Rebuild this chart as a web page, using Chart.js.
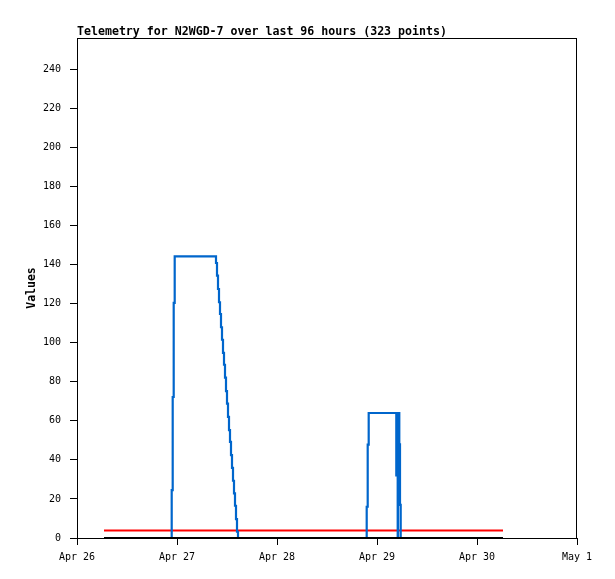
<!DOCTYPE html>
<html>
<head>
<meta charset="utf-8">
<script src="https://cdn.jsdelivr.net/npm/chart.js@4.4.1/dist/chart.umd.min.js"></script>
<style>
  html, body { margin: 0; padding: 0; background: #fff; }
  #wrap { width: 615px; height: 579px; position: relative; }
</style>
</head>
<body>
<div id="wrap"><canvas id="chart"></canvas></div>
<script>
// Time in days since Apr 26 00:00
const tickLabels = ['Apr 26', 'Apr 27', 'Apr 28', 'Apr 29', 'Apr 30', 'May 1'];

// Blue channel (value changes at each time and holds until the next)
const blueTimes = [
  0.27, 0.947, 0.957, 0.967, 0.977,
  1.39, 1.40, 1.41, 1.42, 1.43, 1.44, 1.45, 1.46, 1.47, 1.48, 1.49,
  1.50, 1.51, 1.52, 1.53, 1.54, 1.55, 1.56, 1.57, 1.58, 1.59, 1.60, 1.61,
  2.897, 2.907, 2.917,
  3.193, 3.20, 3.207, 3.21, 3.217, 3.223, 3.23, 3.237,
  4.26
];
const blueValues = [
  0, 24.5, 72.2, 120.4, 144.2,
  140.8, 134.3, 127.5, 120.7, 114.7, 107.9, 101.5, 94.8, 88.7, 82.1, 75.2,
  68.8, 62.0, 55.2, 49.2, 42.4, 35.9, 29.3, 22.8, 16.5, 9.7, 3.2, 0,
  16.0, 47.8, 64.0,
  32, 64, 0, 17, 64, 48, 17, 0,
  0
];

// Flat channels
const flatTimes = [0.27, 4.26];
const redValues = [3.8, 3.8];
const blackValues = [0, 0];

const title = 'Telemetry for N2WGD-7 over last 96 hours (323 points)';
const yTitle = 'Values';

const toPoints = (xs, ys) => xs.map((x, i) => ({ x: x, y: ys[i] }));

// Frame + title drawn at the chart area
const framePlugin = {
  id: 'frame',
  afterDraw(chart) {
    const { ctx, chartArea: a } = chart;
    ctx.save();
    ctx.strokeStyle = '#000';
    ctx.lineWidth = 1;
    ctx.strokeRect(a.left + 0.5, a.top + 0.5, a.right - a.left - 1, a.bottom - a.top);
    ctx.fillStyle = '#000';
    ctx.font = 'bold 11.6px "DejaVu Sans Mono", monospace';
    ctx.textAlign = 'left';
    ctx.textBaseline = 'alphabetic';
    ctx.fillText(title, a.left, a.top - 3);
    ctx.restore();
  }
};

const tickFont = { family: '"DejaVu Sans Mono", monospace', size: 10 };

new Chart(document.getElementById('chart'), {
  type: 'line',
  data: {
    datasets: [
      {
        label: 'black',
        data: toPoints(flatTimes, blackValues),
        borderColor: '#000000',
        borderWidth: 2,
        pointRadius: 0
      },
      {
        label: 'blue',
        data: toPoints(blueTimes, blueValues),
        borderColor: '#0066cc',
        borderWidth: 2.2,
        pointRadius: 0,
        stepped: true
      },
      {
        label: 'red',
        data: toPoints(flatTimes, redValues),
        borderColor: '#ff0000',
        borderWidth: 2,
        pointRadius: 0
      }
    ]
  },
  options: {
    responsive: true,
    maintainAspectRatio: false,
    animation: false,
    layout: { padding: { top: 38, right: 38, left: 0, bottom: 0 } },
    plugins: {
      legend: { display: false },
      tooltip: { enabled: false }
    },
    scales: {
      x: {
        type: 'linear',
        min: 0,
        max: 5,
        afterFit: s => { s.height = 41; },
        grid: { drawOnChartArea: false, drawTicks: true, tickLength: 7, color: '#000' },
        border: { display: true, color: '#000' },
        ticks: {
          stepSize: 1,
          padding: 6,
          color: '#000',
          font: tickFont,
          maxRotation: 0,
          callback: v => tickLabels[v]
        }
      },
      y: {
        min: 0,
        max: 256,
        afterFit: s => { s.width = 77; },
        afterBuildTicks: s => { s.ticks = s.ticks.filter(t => t.value % 20 === 0); },
        grid: { drawOnChartArea: false, drawTicks: true, tickLength: 7, color: '#000' },
        border: { display: true, color: '#000' },
        title: {
          display: true,
          text: yTitle,
          color: '#000',
          font: { family: '"DejaVu Sans Mono", monospace', size: 11.5, weight: 'bold' },
          padding: { top: 25, bottom: 0 }
        },
        ticks: {
          stepSize: 20,
          padding: 9,
          color: '#000',
          font: tickFont
        }
      }
    }
  },
  plugins: [framePlugin]
});
</script>
</body>
</html>
